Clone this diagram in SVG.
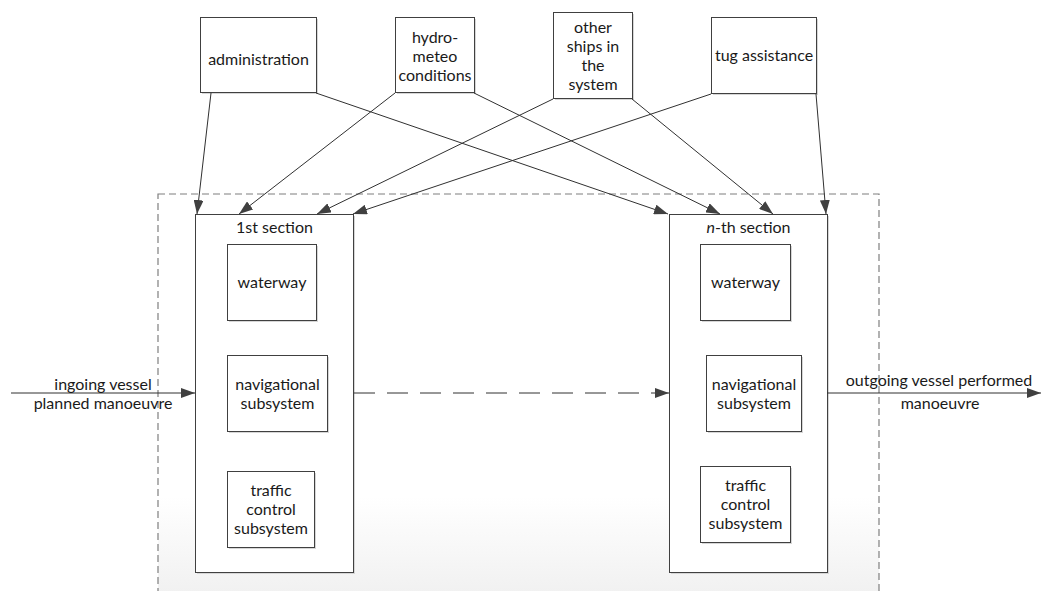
<svg xmlns="http://www.w3.org/2000/svg" width="1041" height="591" viewBox="0 0 1041 591">
  <defs>
    <linearGradient id="fade" x1="0" y1="0" x2="0" y2="1" gradientUnits="objectBoundingBox">
      <stop offset="0" stop-color="#ffffff"/>
      <stop offset="0.72" stop-color="#ffffff"/>
      <stop offset="1" stop-color="#eeeeee"/>
    </linearGradient>
    <marker id="arr" viewBox="0 0 14 10" refX="14" refY="5" markerWidth="14" markerHeight="10" markerUnits="userSpaceOnUse" orient="auto">
      <path d="M0,0 L14,5 L0,10 Z" fill="#404040"/>
    </marker>
  </defs>
  <style>
    .box { fill: #ffffff; stroke: #404040; stroke-width: 1; }
    .shadow { fill: #d6d6d6; stroke: none; }
    .lbl { font-family: Lato, "Liberation Sans", sans-serif; font-size: 16px; fill: #1a1a1a; text-anchor: middle; }
    .link { fill: none; stroke: #303030; stroke-width: 1; marker-end: url(#arr); }
  </style>

  <rect width="1041" height="591" fill="#ffffff"/>

  <!-- system boundary -->
  <g id="system">
    <rect x="158" y="194" width="721" height="420" fill="url(#fade)" stroke="#7f7f7f" stroke-width="1.2" stroke-dasharray="7 4"/>
  </g>

  <!-- external influences -->
  <g id="administration">
    <rect class="shadow" x="202" y="19" width="116" height="75"/>
    <rect class="box" x="200.5" y="17.5" width="116" height="75"/>
    <text class="lbl" x="258.5" y="65">administration</text>
  </g>
  <g id="hydrometeo">
    <rect class="shadow" x="397" y="19" width="79" height="75"/>
    <rect class="box" x="395.5" y="17.5" width="79" height="75"/>
    <text class="lbl" x="435" y="43">hydro-</text>
    <text class="lbl" x="435" y="62">meteo</text>
    <text class="lbl" x="435" y="81">conditions</text>
  </g>
  <g id="other-ships">
    <rect class="shadow" x="555" y="14" width="79" height="86"/>
    <rect class="box" x="553.5" y="12.5" width="79" height="86"/>
    <text class="lbl" x="593" y="33">other</text>
    <text class="lbl" x="593" y="52">ships in</text>
    <text class="lbl" x="593" y="71">the</text>
    <text class="lbl" x="593" y="90">system</text>
  </g>
  <g id="tug">
    <rect class="shadow" x="713" y="19" width="105" height="76"/>
    <rect class="box" x="711.5" y="17.5" width="105" height="76"/>
    <text class="lbl" x="764" y="61">tug assistance</text>
  </g>

  <!-- first section -->
  <g id="section-1">
    <rect class="shadow" x="197" y="216" width="158" height="358"/>
    <rect class="box" x="195.5" y="214.5" width="158" height="358"/>
    <text class="lbl" x="274.5" y="233">1st section</text>
    <rect class="shadow" x="229" y="246" width="89" height="76"/>
    <rect class="box" x="227.5" y="244.5" width="89" height="76"/>
    <text class="lbl" x="272" y="288">waterway</text>
    <rect class="shadow" x="229" y="357" width="100" height="76"/>
    <rect class="box" x="227.5" y="355.5" width="100" height="76"/>
    <text class="lbl" x="277.5" y="390">navigational</text>
    <text class="lbl" x="277.5" y="409">subsystem</text>
    <rect class="shadow" x="229" y="473" width="87" height="76"/>
    <rect class="box" x="227.5" y="471.5" width="87" height="76"/>
    <text class="lbl" x="271" y="496">traffic</text>
    <text class="lbl" x="271" y="515">control</text>
    <text class="lbl" x="271" y="534">subsystem</text>
  </g>

  <!-- n-th section -->
  <g id="section-n">
    <rect class="shadow" x="671" y="216" width="158" height="358"/>
    <rect class="box" x="669.5" y="214.5" width="158" height="358"/>
    <text class="lbl" x="748.5" y="233"><tspan font-style="italic">n</tspan>-th section</text>
    <rect class="shadow" x="702" y="246" width="90" height="76"/>
    <rect class="box" x="700.5" y="244.5" width="90" height="76"/>
    <text class="lbl" x="745.5" y="288">waterway</text>
    <rect class="shadow" x="708" y="357" width="95" height="76"/>
    <rect class="box" x="706.5" y="355.5" width="95" height="76"/>
    <text class="lbl" x="754" y="390">navigational</text>
    <text class="lbl" x="754" y="409">subsystem</text>
    <rect class="shadow" x="702" y="468" width="90" height="76"/>
    <rect class="box" x="700.5" y="466.5" width="90" height="76"/>
    <text class="lbl" x="745.5" y="491">traffic</text>
    <text class="lbl" x="745.5" y="510">control</text>
    <text class="lbl" x="745.5" y="529">subsystem</text>
  </g>

  <!-- connectors -->
  <g id="connectors">
    <path class="link" d="M211,93 L197,214"/>
    <path class="link" d="M316,93 L668,214"/>
    <path class="link" d="M395,93 L239,214"/>
    <path class="link" d="M474,93 L720,214"/>
    <path class="link" d="M553,99 L317,214"/>
    <path class="link" d="M632,99 L773,214"/>
    <path class="link" d="M711,94 L353,214"/>
    <path class="link" d="M816,94 L826,214"/>
    <path class="link" d="M11,393 L195,393"/>
    <path class="link" d="M827,393 L1041,393"/>
    <path class="link" d="M354,393 L669,393" stroke-dasharray="21 12"/>
  </g>

  <!-- flow labels -->
  <g id="flow-labels">
    <text class="lbl" x="103" y="390">ingoing vessel</text>
    <text class="lbl" x="103" y="409">planned manoeuvre</text>
    <text class="lbl" x="939" y="386">outgoing vessel performed</text>
    <text class="lbl" x="940" y="409">manoeuvre</text>
  </g>
</svg>
